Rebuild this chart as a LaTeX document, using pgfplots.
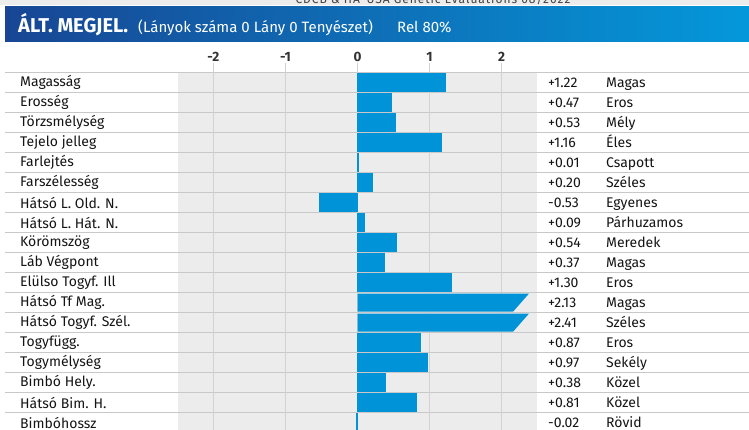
\documentclass[border=0pt]{standalone}
\usepackage{pgfplots}
\pgfplotsset{compat=1.18}
\usepackage{fontspec}
\setmainfont{Fira Sans}
\definecolor{barblue}{RGB}{0,147,216}
\definecolor{rowgray}{RGB}{236,236,236}
\definecolor{sepgray}{RGB}{200,200,200}
\definecolor{gridgray}{RGB}{210,210,210}
\definecolor{hdark}{RGB}{24,70,148}
\definecolor{hlight}{RGB}{4,152,218}
\definecolor{stripgray}{RGB}{236,236,236}
\definecolor{txt}{RGB}{20,20,20}
\begin{document}
\begin{tikzpicture}[x=1pt,y=1pt]
\useasboundingbox (0,-430) rectangle (749,0);
\clip (0,-430) rectangle (749,0);
% top strip
\fill[stripgray] (0,0) rectangle (749,-5.5);
\node[anchor=base, inner sep=0, text=black!75, font=\fontsize{12}{13}\selectfont\addfontfeatures{LetterSpace=8}] at (433,-3.5) {CDCB \& HA-USA Genetic Evaluations 08/2022};
% header band
\shade[left color=hdark, right color=hlight] (5,-6.7) rectangle (749,-41.7);
\node[anchor=base west, inner sep=0, text=white, font=\bfseries\fontsize{20}{22}\selectfont] at (18,-32.5) {ÁLT. MEGJEL.};
\node[anchor=base west, inner sep=0, text=white, font=\fontsize{15}{16}\selectfont] at (138,-32.5) {(Lányok száma 0 Lány 0 Tenyészet)};
\node[anchor=base west, inner sep=0, text=white, font=\fontsize{15}{16}\selectfont] at (397,-32.5) {Rel 80\%};
% row background and separators
\fill[rowgray] (178,-72.5) rectangle (537,-433);
\foreach \k in {0,...,18} \draw[sepgray, line width=1.8pt] (5,-72.5-20*\k) -- (749,-72.5-20*\k);
% right columns
\foreach \v [count=\i] in {+1.22,+0.47,+0.53,+1.16,+0.01,+0.20,-0.53,+0.09,+0.54,+0.37,+1.30,+2.13,+2.41,+0.87,+0.97,+0.38,+0.81,-0.02}
  \node[anchor=base west, inner sep=0, text=txt, font=\fontsize{14}{16}\selectfont] at (548,-87.5-20*\i+20) {\v};
\foreach \w [count=\i] in {Magas,Eros,Mély,Éles,Csapott,Széles,Egyenes,Párhuzamos,Meredek,Magas,Eros,Magas,Széles,Eros,Sekély,Közel,Közel,Rövid}
  \node[anchor=base west, inner sep=0, text=txt, font=\fontsize{14}{16}\selectfont] at (606,-87.5-20*\i+20) {\w};
\begin{axis}[
  at={(178pt,-72.5pt)}, anchor=north west,
  scale only axis, width=359pt, height=360pt,
  xmin=-2.49, xmax=2.49, ymin=0.5, ymax=18.5, y dir=reverse,
  axis line style={draw=none},
  xtick={-2,-1,0,1,2}, xticklabels={-2,-1,0,1,2},
  xtick pos=upper, xticklabel pos=upper,
  tick align=outside, major tick length=10pt,
  x tick style={gridgray, line width=1pt},
  xmajorgrids, major grid style={gridgray, line width=1.2pt},
  xticklabel style={font=\bfseries\fontsize{13.5}{14}\selectfont, text=black!80, inner sep=1pt},
  /pgf/number format/assume math mode=true,
  ytick={1,...,18},
  yticklabels={Magasság,Erosség,Törzsmélység,Tejelo jelleg,Farlejtés,Farszélesség,Hátsó L. Old. N.,Hátsó L. Hát. N.,Körömszög,Láb Végpont,Elülso Togyf. Ill,Hátsó Tf Mag.,Hátsó Togyf. Szél.,Togyfügg.,Togymélység,Bimbó Hely.,Hátsó Bim. H.,Bimbóhossz},
  ytick style={draw=none},
  yticklabel style={anchor=west, inner sep=0, xshift=-148pt, font=\fontsize{14}{16}\selectfont, text=txt},
  clip=false,
]
\addplot[xbar, bar width=18pt, fill=barblue, draw=barblue, line width=0.6pt] coordinates {
(1.22,1) (0.47,2) (0.53,3) (1.16,4) (0.01,5) (0.20,6) (-0.53,7) (0.09,8) (0.54,9) (0.37,10) (1.30,11) (0.87,14) (0.97,15) (0.38,16) (0.81,17) (-0.02,18)};
\addplot[fill=barblue, draw=none] coordinates {(0,11.55) (2.38,11.55) (2.16,12.45) (0,12.45)} -- cycle;
\addplot[fill=barblue, draw=none] coordinates {(0,12.55) (2.38,12.55) (2.16,13.45) (0,13.45)} -- cycle;
\end{axis}
\end{tikzpicture}
\end{document}
